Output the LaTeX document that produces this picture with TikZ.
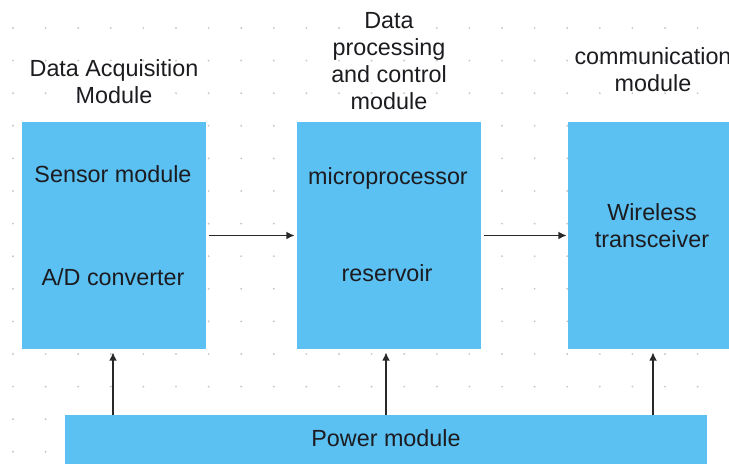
\documentclass[tikz,border=0pt]{standalone}
\usepackage{fontspec}
\setmainfont{Liberation Sans}
\usetikzlibrary{arrows.meta,calc}
\definecolor{cbox}{RGB}{91,192,242}
\definecolor{cdot}{RGB}{200,200,200}
\definecolor{ctext}{RGB}{28,28,32}
\definecolor{carr}{RGB}{40,40,40}
\tikzset{
  modbox/.style={rectangle,fill=cbox,draw=none,inner sep=0pt,
    minimum width=4.6cm,minimum height=5.675cm},
  powbox/.style={rectangle,fill=cbox,draw=none,inner sep=0pt,
    minimum width=16.05cm,minimum height=1.25cm},
  lab/.style={align=center,inner sep=0pt,text=ctext,
    font=\fontsize{16.6}{19.3}\selectfont},
  arr/.style={-{Latex[length=2.1mm,width=2mm]},line width=1.2pt,draw=carr}
}

\begin{document}
\begin{tikzpicture}[x=0.025cm,y=-0.025cm]
  \useasboundingbox (0,0) rectangle (729,464);
  \clip (0,0) rectangle (729,464);
  % dotted grid in the background
  \foreach \i in {0,...,22}
    \foreach \j in {0,...,13}
      \fill[cdot] (13+32.6*\i,28+32.6*\j) circle[radius=0.75pt];
  % modules
  \node[modbox] (acq) at (114,235.5) {};
  \node[modbox] (proc) at (389,235.5) {};
  \node[modbox] (comm) at (660,235.5) {};
  \node[powbox] (power) at (386,440) {};
  % headings above the modules
  \node[lab] (acqhead) at (114,81.5) {Data Acquisition\\Module};
  \node[lab] (prochead) at (389,61) {Data\\processing\\and control\\module};
  \node[lab] (commhead) at (653,69.5) {communication\\module};
  % texts inside the modules
  \node[lab] (sensor) at (113,174) {Sensor module};
  \node[lab] (adc) at (113,277) {A/D converter};
  \node[lab] (micro) at (388,178) {microprocessor};
  \node[lab] (reserv) at (387,273) {reservoir};
  \node[lab] (wireless) at (652,225.5) {Wireless\\transceiver};
  \node[lab] (powlab) at (386,438) {Power module};
  % data flow
  \draw[arr,shorten <=0.075cm,shorten >=0.05cm] (acq.east) -- (proc.west);
  \draw[arr,shorten <=0.075cm,shorten >=0.025cm] (proc.east) -- (comm.west);
  % power supply
  \draw[arr,shorten >=0.075cm] (sensor |- power.north) -- (sensor |- acq.south);
  \draw[arr,shorten >=0.075cm] (power.north) -- (power.north |- proc.south);
  \draw[arr,shorten >=0.075cm] (commhead |- power.north) -- (commhead |- comm.south);
\end{tikzpicture}
\end{document}
